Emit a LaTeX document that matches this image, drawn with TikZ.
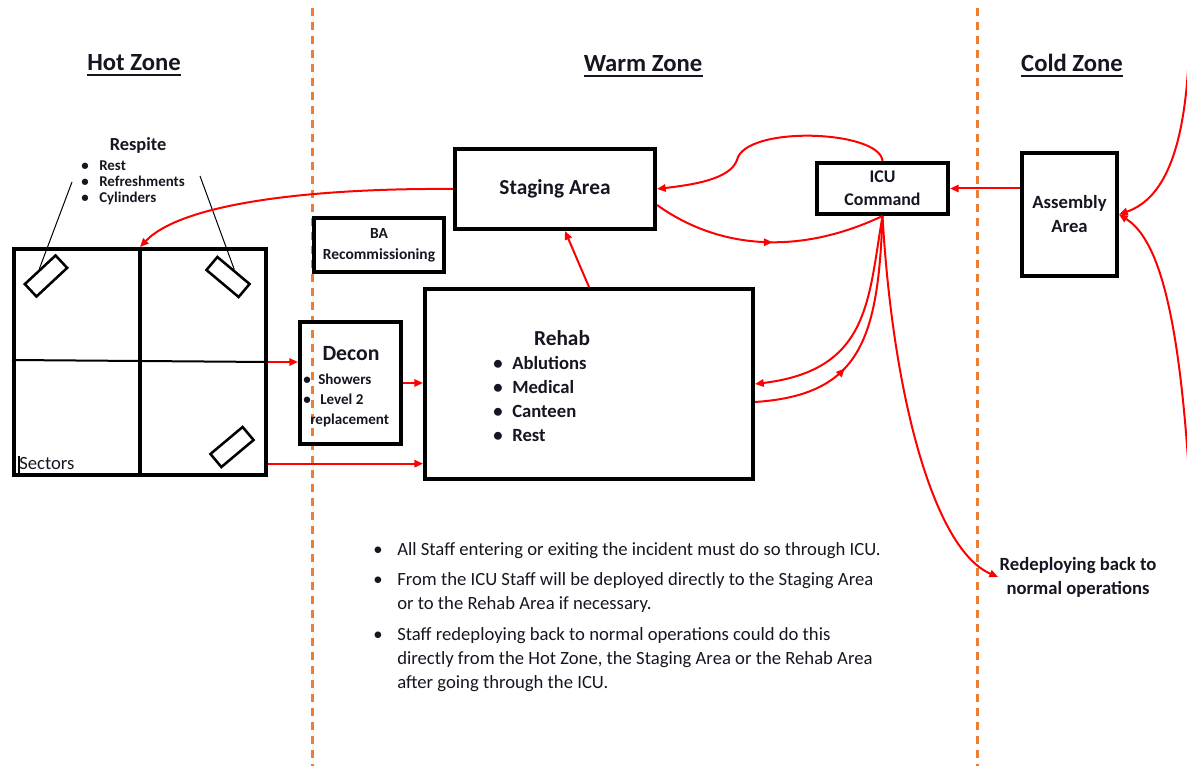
\documentclass[tikz,border=0pt]{standalone}
\usepackage{fontspec}
\setmainfont{Carlito}
\usetikzlibrary{arrows.meta,calc,decorations.markings}
\definecolor{zoneorange}{RGB}{237,125,49}
\definecolor{ink}{RGB}{22,22,34}
\definecolor{flow}{RGB}{255,0,0}
\newcommand\zfs[2]{\fontsize{#1}{#2}\selectfont}

\tikzset{
  box/.style={draw=black, line width=3pt, inner sep=0pt, align=center, text=ink},
  lbl/.style={inner sep=0pt, text=ink},
  cyl/.style={draw=black, line width=1.9pt, minimum width=31.5pt, minimum height=12.75pt, inner sep=0pt},
  zoneline/.style={draw=zoneorange, line width=2.25pt, dash pattern=on 6pt off 4.5pt},
  flowarr/.style={draw=flow, line width=1.5pt, -{Triangle[length=6.5pt,width=5.5pt]}},
  flowline/.style={draw=flow, line width=1.5pt},
  midarr/.style={postaction={decorate}, decoration={markings,
      mark=at position #1 with {\arrow{Triangle[length=6.5pt,width=5.5pt]}}}},
  title/.style={lbl, anchor=base, font=\zfs{18.5}{22}\bfseries},
  pointer/.style={draw=black, line width=0.75pt}
}

\begin{document}
\begin{tikzpicture}[x=0.75pt,y=-0.75pt]
\useasboundingbox (0,0) rectangle (1187,766);

% zone boundaries
\coordinate (zA1) at (312,8);   \coordinate (zA2) at (312,766);
\coordinate (zB1) at (977,8);   \coordinate (zB2) at (977,766);
\draw[zoneline] (zA1) -- (zA2);
\draw[zoneline] (zB1) -- (zB2);

% zone titles
\node[title] (hotT)  at (134,71)  {Hot Zone};
\node[title] (warmT) at (643,72)  {Warm Zone};
\node[title] (coldT) at (1072,72) {Cold Zone};
\foreach \t in {hotT,warmT,coldT}
  \draw[line width=1.6pt, ink] ([yshift=-3pt]\t.base west) -- ([yshift=-3pt]\t.base east);

% hot zone sectors
\node[box, minimum width=189pt, minimum height=169.5pt] (hot) at (140,362) {};
\draw[line width=3pt] (hot.north) -- (hot.south);
\draw[line width=1.5pt] ($(hot.west)+(0,-2)$) -- (hot.east);
\node[lbl, anchor=base west, font=\zfs{14}{17}] (sect) at (19,469) {Sectors};
\draw[line width=0.8pt] ($(sect.base west)+(0,4)$) -- ($(sect.base west)+(0,-13)$);

% respite cylinders
\node[cyl, rotate=43]  (cylA) at (46,276) {};
\node[cyl, rotate=-40] (cylB) at (228,277) {};
\node[cyl, rotate=40]  (cylC) at (232,447) {};

% respite label (base of a multi-line node is its last line)
\node[lbl, anchor=base, font=\zfs{13.8}{15}\bfseries] (resp) at (138,151) {Respite};
\node[lbl, anchor=base, font=\zfs{11.2}{12}\bfseries, align=center] (respB) at (85,203) {•\\•\\•};
\node[lbl, anchor=base west, font=\zfs{11.2}{12}\bfseries, align=left] (respL) at (99,203) {Rest\\Refreshments\\Cylinders};
\coordinate (rpl) at (72,182);
\coordinate (rpr) at (200,176);
\draw[pointer] (rpl) -- (cylA.north);
\draw[pointer] (rpr) -- (cylB.north);

% warm zone areas
\node[box, minimum width=150pt, minimum height=60pt, font=\zfs{16}{19}\bfseries] (stage) at (555,189) {Staging Area};
\node[box, minimum width=97.5pt, minimum height=40.5pt, font=\zfs{11.6}{15.75}\bfseries] (ba) at (379,245) {BA\\Recommissioning};
\node[box, minimum width=246pt, minimum height=142.5pt] (rehab) at (589,384) {};
\node[box, minimum width=75.75pt, minimum height=91.5pt] (decon) at (350.5,383) {};
\node[box, minimum width=98.25pt, minimum height=38.25pt, font=\zfs{13.4}{17.25}\bfseries] (icu) at (882.5,188.5) {ICU\\Command};

% rehab contents
\node[lbl, anchor=base, font=\zfs{16}{19}\bfseries] (rehabT) at (562,345) {Rehab};
\node[lbl, anchor=base, font=\zfs{14}{18}\bfseries, align=center] (rehabB) at (498,441) {•\\•\\•\\•};
\node[lbl, anchor=base west, font=\zfs{14}{18}\bfseries, align=left] (rehabL) at (512,441) {Ablutions\\Medical\\Canteen\\Rest};

% decon contents
\node[lbl, anchor=base, font=\zfs{16.3}{19}\bfseries] (deconT) at (351,360) {Decon};
\node[lbl, anchor=base, font=\zfs{11.3}{15}\bfseries, align=center] (deconB) at (307,404) {•\\•};
\node[lbl, anchor=base west, font=\zfs{11.3}{15}\bfseries] (dShow) at (318,384) {Showers};
\node[lbl, anchor=base west, font=\zfs{11.3}{15}\bfseries] (dLev)  at (320,404) {Level 2};
\node[lbl, anchor=base west, font=\zfs{11.3}{15}\bfseries] (dRep)  at (310,424) {replacement};

% cold zone
\node[box, minimum width=71.25pt, minimum height=92.25pt, font=\zfs{14}{18}\bfseries] (asm) at (1069.5,214.5) {Assembly\\Area};
\node[lbl, font=\zfs{14}{18}\bfseries, align=center, inner sep=1pt] (redep) at (1078,577) {Redeploying back to\\normal operations};

% notes
\node[lbl, anchor=base, font=\zfs{14}{18}] (n1b) at (378,555) {•};
\node[lbl, anchor=base west, font=\zfs{14}{18}] (n1) at (397,555) {All Staff entering or exiting the incident must do so through ICU.};
\node[lbl, anchor=base, font=\zfs{14}{18}] (n2b) at (378,585) {•};
\node[lbl, anchor=base west, font=\zfs{14}{18}, align=left] (n2) at (397,609) {From the ICU Staff will be deployed directly to the Staging Area\\or to the Rehab Area if necessary.};
\node[lbl, anchor=base, font=\zfs{14}{18}] (n3b) at (378,640) {•};
\node[lbl, anchor=base west, font=\zfs{14}{18}, align=left] (n3) at (397,688) {Staff redeploying back to normal operations could do this\\directly from the Hot Zone, the Staging Area or the Rehab Area\\after going through the ICU.};

% flows
\draw[flowarr] (hot.east) -- (hot.east -| decon.west);
\draw[flowarr] (decon.east) -- (decon.east -| rehab.west);
\draw[flowarr] ([yshift=10pt]hot.south east) -- ([yshift=10pt]hot.south east -| rehab.west);
\draw[flowarr] (rehab.north) -- ($(stage.south)+(10,0)$);
\draw[flowarr] (stage.west) .. controls (330,188) and (185,200) .. (hot.north);
\coordinate (loop) at (737,160);
\draw[flowarr] (icu.north) .. controls (880,130) and (745,125) .. (loop)
   .. controls (730,180) and (690,185) .. (stage.east);
\draw[flowline, midarr=0.52] ($(stage.east)+(0,16)$) .. controls (720,250) and (800,255) .. (icu.south);
\draw[flowarr] (icu.south) .. controls (868,300) and (870,370) .. (rehab.east);
\draw[flowline, midarr=0.38] ($(rehab.east)+(0,18)$) .. controls (860,395) and (878,340) .. (icu.south);
\draw[flowarr] (icu.south) .. controls (893,400) and (935,550) .. (redep.west);
\draw[flowarr] (icu.east -| asm.west) -- (icu.east);
\coordinate (inTop) at (1188,70);
\coordinate (inLow) at (1190,490);
\draw[flowarr] (inTop) .. controls (1182,160) and (1160,200) .. (asm.east);
\draw[flowarr] (inLow) .. controls (1180,320) and (1160,240) .. (asm.east);
\end{tikzpicture}
\end{document}
